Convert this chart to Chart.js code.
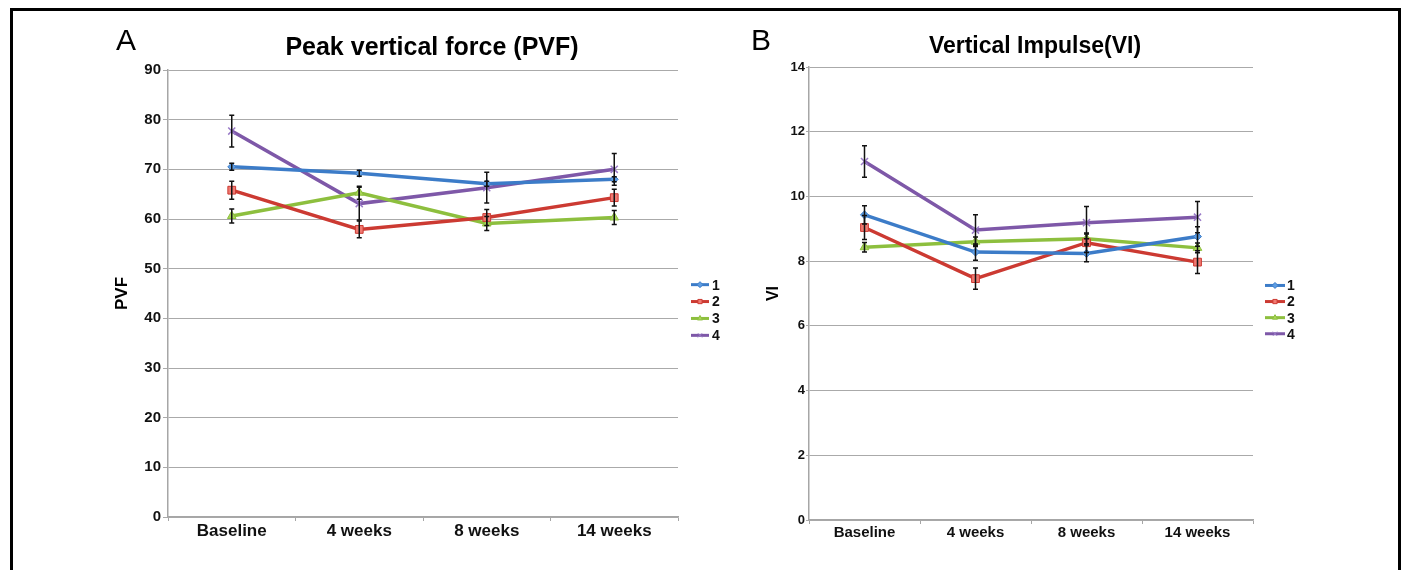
<!DOCTYPE html>
<html>
<head>
<meta charset="utf-8">
<script src="https://cdn.jsdelivr.net/npm/chart.js@4.4.0/dist/chart.umd.min.js"></script>
<style>
  html, body { margin: 0; padding: 0; background: #fff; }
  body { width: 1403px; height: 570px; position: relative; overflow: hidden; font-family: "Liberation Sans", Arial, sans-serif; }
  .frame { position: absolute; left: 10px; top: 8px; width: 1391px; height: 600px; border: 3px solid #000; border-bottom: none; box-sizing: border-box; }
  .panel { position: absolute; top: 0; }
  .letter { position: absolute; font-size: 30px; line-height: 30px; color: #000; }
  .title { position: absolute; font-weight: bold; text-align: center; color: #000; white-space: nowrap; }
</style>
</head>
<body>
<div class="frame"></div>
<canvas id="chartA" class="panel" width="640" height="570" style="left:100px"></canvas>
<canvas id="chartB" class="panel" width="620" height="570" style="left:740px"></canvas>
<div class="letter" style="left:116px; top:25px">A</div>
<div class="letter" style="left:751px; top:25px">B</div>
<div class="title" style="left:232px; width:400px; top:34px; font-size:25px; line-height:25px">Peak vertical force (PVF)</div>
<div class="title" style="left:835px; width:400px; top:34px; font-size:23px; line-height:23px">Vertical Impulse(VI)</div>
<script>
const categories = ["Baseline", "4 weeks", "8 weeks", "14 weeks"];
const seriesNames = ["1", "2", "3", "4"];

// panel A: peak vertical force
const pvf1 = [70.5, 69.2, 67.1, 68.0];
const pvf2 = [65.8, 57.9, 60.3, 64.3];
const pvf3 = [60.6, 65.3, 59.1, 60.3];
const pvf4 = [77.7, 63.1, 66.3, 70.0];
const pvfErr1 = [0.7, 0.6, 0.5, 0.5];
const pvfErr2 = [1.8, 1.7, 1.6, 1.7];
const pvfErr3 = [1.4, 1.3, 1.4, 1.4];
const pvfErr4 = [3.2, 3.3, 3.1, 3.2];
const pvfTicks = { min: 0, max: 90, step: 10 };

// panel B: vertical impulse
const vi1 = [9.43, 8.28, 8.24, 8.76];
const vi2 = [9.04, 7.46, 8.57, 7.97];
const vi3 = [8.43, 8.60, 8.69, 8.41];
const vi4 = [11.08, 8.96, 9.19, 9.36];
const viErr1 = [0.28, 0.25, 0.26, 0.30];
const viErr2 = [0.37, 0.33, 0.30, 0.35];
const viErr3 = [0.15, 0.15, 0.15, 0.15];
const viErr4 = [0.49, 0.47, 0.50, 0.48];
const viTicks = { min: 0, max: 14, step: 2 };

const FONT = "'Liberation Sans', Arial, sans-serif";

const styles = [
  { line: "#3c7cc8", fill: "#5e9de2", point: "rectRot", r: 4 },
  { line: "#cc3a32", fill: "#f07a72", point: "rect", r: 5.5 },
  { line: "#8dbf3e", fill: "#a9d65a", point: "triangle", r: 5 },
  { line: "#7e58a8", fill: "#9a7cc8", point: "crossRot", r: 5 },
];

function makeDatasets(values, errors) {
  return values.map((data, i) => {
    const s = styles[i];
    return {
      label: seriesNames[i],
      data: data,
      errors: errors[i],
      borderColor: s.line,
      backgroundColor: s.line,
      borderWidth: 3.5,
      tension: 0,
      pointStyle: s.point,
      pointRadius: s.r,
      pointBackgroundColor: s.fill,
      pointBorderColor: s.point === "crossRot" ? s.fill : s.line,
      pointBorderWidth: s.point === "crossRot" ? 1.5 : 1,
    };
  });
}

const errorBars = {
  id: "errorBars",
  afterDatasetsDraw(chart) {
    const ctx = chart.ctx;
    const y = chart.scales.y;
    ctx.save();
    ctx.strokeStyle = "#111";
    ctx.lineWidth = 1.5;
    chart.data.datasets.forEach((ds, i) => {
      const meta = chart.getDatasetMeta(i);
      meta.data.forEach((pt, j) => {
        const v = ds.data[j];
        const e = ds.errors[j];
        const top = y.getPixelForValue(v + e);
        const bot = y.getPixelForValue(v - e);
        ctx.beginPath();
        ctx.moveTo(pt.x, top);
        ctx.lineTo(pt.x, bot);
        ctx.moveTo(pt.x - 2.5, top);
        ctx.lineTo(pt.x + 2.5, top);
        ctx.moveTo(pt.x - 2.5, bot);
        ctx.lineTo(pt.x + 2.5, bot);
        ctx.stroke();
      });
    });
    ctx.restore();
  },
};

const sideLegend = {
  id: "sideLegend",
  afterDraw(chart, args, opts) {
    const ctx = chart.ctx;
    const area = chart.chartArea;
    const n = chart.data.datasets.length;
    ctx.save();
    chart.data.datasets.forEach((ds, i) => {
      const y = opts.centerY + (i - (n - 1) / 2) * opts.spacing;
      const x0 = area.right + opts.lineStart;
      const x1 = x0 + opts.lineLen;
      ctx.strokeStyle = ds.borderColor;
      ctx.lineWidth = 3;
      ctx.beginPath();
      ctx.moveTo(x0, y);
      ctx.lineTo(x1, y);
      ctx.stroke();
      if (Chart.helpers && Chart.helpers.drawPoint) {
        ctx.fillStyle = ds.pointBackgroundColor;
        ctx.strokeStyle = ds.pointBorderColor;
        ctx.lineWidth = 1;
        Chart.helpers.drawPoint(ctx, { pointStyle: ds.pointStyle, radius: 3, rotation: 0, borderWidth: 1 }, (x0 + x1) / 2, y);
      }
      ctx.fillStyle = "#111";
      ctx.font = "bold " + opts.fontSize + "px " + FONT;
      ctx.textBaseline = "middle";
      ctx.textAlign = "left";
      ctx.fillText(ds.label, area.right + opts.textStart, y + 1);
    });
    ctx.restore();
  },
};

function makeChart(id, cfg) {
  return new Chart(document.getElementById(id), {
    type: "line",
    data: { labels: categories, datasets: makeDatasets(cfg.values, cfg.errors) },
    plugins: [errorBars, sideLegend],
    options: {
      responsive: false,
      devicePixelRatio: 1,
      animation: false,
      events: [],
      layout: { padding: cfg.padding },
      plugins: {
        legend: { display: false },
        title: { display: false },
        tooltip: { enabled: false },
        sideLegend: cfg.legend,
      },
      scales: {
        x: {
          offset: true,
          grid: { offset: true, drawOnChartArea: false, drawTicks: true, tickLength: 4, color: "#a6a6a6" },
          border: { color: "#a6a6a6", width: 1.5 },
          ticks: { color: "#111", padding: 0, maxRotation: 0, font: { family: FONT, weight: "bold", size: cfg.xFont } },
          afterFit: (s) => { s.height = cfg.xHeight; },
        },
        y: {
          min: cfg.ticks.min,
          max: cfg.ticks.max,
          ticks: { stepSize: cfg.ticks.step, color: "#111", padding: cfg.yPad, font: { family: FONT, weight: "bold", size: cfg.yFont } },
          grid: { color: "#aaaaaa", lineWidth: 1, tickLength: cfg.yTick },
          border: { color: "#a6a6a6", width: 1.5 },
          title: { display: true, text: cfg.yTitle, color: "#000", padding: { top: 4, bottom: 0 }, font: { family: FONT, weight: "bold", size: cfg.yTitleFont } },
          afterFit: (s) => { s.width = cfg.yWidth; },
        },
      },
    },
  });
}

makeChart("chartA", {
  values: [pvf1, pvf2, pvf3, pvf4],
  errors: [pvfErr1, pvfErr2, pvfErr3, pvfErr4],
  ticks: pvfTicks,
  yTitle: "PVF",
  yTitleFont: 17,
  xFont: 17,
  yFont: 15,
  yPad: 2,
  yTick: 5,
  yWidth: 60,
  xHeight: 43,
  padding: { left: 8, top: 70, right: 62, bottom: 10 },
  legend: { centerY: 310, spacing: 16.9, lineStart: 13, lineLen: 18, textStart: 34, fontSize: 14 },
});

makeChart("chartB", {
  values: [vi1, vi2, vi3, vi4],
  errors: [viErr1, viErr2, viErr3, viErr4],
  ticks: viTicks,
  yTitle: "VI",
  yTitleFont: 16,
  xFont: 15,
  yFont: 13,
  yPad: 1,
  yTick: 3,
  yWidth: 49,
  xHeight: 40,
  padding: { left: 20, top: 67, right: 107, bottom: 10 },
  legend: { centerY: 309.6, spacing: 16.1, lineStart: 12, lineLen: 20, textStart: 34, fontSize: 14 },
});
</script>
</body>
</html>
